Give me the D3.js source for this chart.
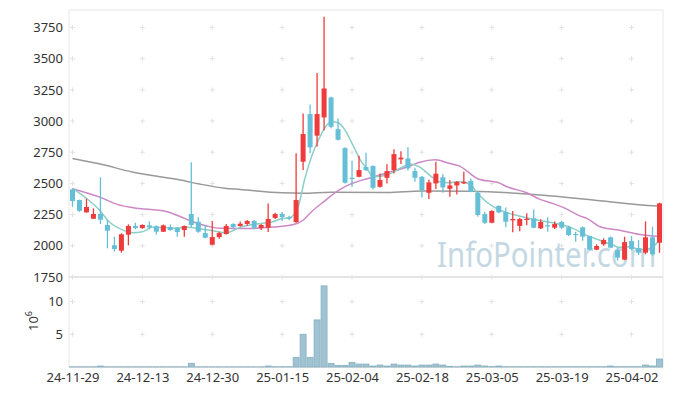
<!DOCTYPE html>
<html>
<head>
<meta charset="utf-8">
<script src="https://cdn.jsdelivr.net/npm/d3@7"></script>
<style>
  body { margin: 0; background: #fff; }
  svg { display: block; font-family: "Noto Sans", "Open Sans", sans-serif; }
  .tick text { fill: #333; font-size: 13px; }
</style>
</head>
<body>
<svg id="chart" width="673" height="396"></svg>
<script>
// trading days shown on the x axis
const dates = [
  "24-11-29",
  "24-12-02","24-12-03","24-12-04","24-12-05","24-12-06",
  "24-12-09","24-12-10","24-12-11","24-12-12","24-12-13",
  "24-12-16","24-12-17","24-12-18","24-12-19","24-12-20",
  "24-12-23","24-12-24","24-12-26","24-12-27","24-12-30",
  "25-01-02","25-01-03","25-01-06","25-01-07","25-01-08","25-01-09","25-01-10",
  "25-01-13","25-01-14","25-01-15","25-01-16","25-01-17",
  "25-01-20","25-01-21","25-01-22","25-01-23","25-01-24","25-01-31",
  "25-02-03","25-02-04","25-02-05","25-02-06","25-02-07",
  "25-02-10","25-02-11","25-02-12","25-02-13","25-02-14",
  "25-02-17","25-02-18","25-02-19","25-02-20","25-02-21",
  "25-02-24","25-02-25","25-02-26","25-02-27","25-02-28",
  "25-03-04","25-03-05","25-03-06","25-03-07",
  "25-03-10","25-03-11","25-03-12","25-03-13","25-03-14",
  "25-03-17","25-03-18","25-03-19","25-03-20","25-03-21",
  "25-03-24","25-03-25","25-03-26","25-03-27","25-03-28",
  "25-03-31","25-04-01","25-04-02","25-04-03","25-04-04","25-04-07","25-04-08"
]

const opens = [2452,2367,2268,2217,2255,2167,2004,1961,2089,2159,2142,2164,2156,2113,2150,2142,2126,2255,2193,2102,
  2009,2070,2094,2175,2159,2175,2199,2142,2145,2223,2255,2228,2190,2674,3056,2883,3029,3189,2935,2783,
  2545,2553,2631,2639,2473,2545,2607,2693,2700,2599,2553,2425,2500,2549,2457,2484,2500,2519,2425,2255,
  2185,2319,2271,2204,2159,2210,2219,2140,2165,2145,2191,2148,2095,2148,2078,1969,2012,2068,1966,1889,
  2038,1980,1945,2068,2025]
const highs = [2460,2370,2377,2300,2549,2207,2073,2100,2172,2185,2172,2196,2164,2170,2170,2150,2162,2669,2229,2167,
  2199,2113,2175,2180,2195,2207,2207,2175,2340,2265,2271,2240,2741,3061,3133,3386,3835,3195,3021,2790,
  2681,2722,2746,2645,2580,2653,2773,2757,2789,2626,2560,2530,2674,2573,2527,2520,2594,2540,2430,2273,
  2285,2325,2308,2279,2225,2260,2292,2212,2229,2195,2200,2160,2113,2155,2080,2012,2060,2075,1988,2073,
  2078,2046,2196,2153,2345]
const lows = [2313,2272,2265,2215,2175,1980,1953,1945,2004,2132,2137,2132,2090,2110,2120,2073,2073,2148,2105,2060,
  2005,2057,2090,2142,2153,2160,2132,2126,2110,2215,2199,2205,2185,2607,2741,2794,2927,2943,2845,2500,
  2473,2550,2600,2452,2468,2500,2580,2655,2604,2513,2388,2375,2455,2425,2393,2412,2495,2430,2233,2175,
  2180,2260,2148,2108,2116,2164,2140,2135,2113,2135,2135,2078,2033,2041,1965,1965,2000,1980,1880,1885,
  1965,1926,1932,1920,1945]
const closes = [2359,2281,2311,2255,2209,2121,1974,2092,2159,2142,2167,2148,2113,2164,2126,2110,2159,2167,2113,2065,
  2070,2102,2159,2150,2177,2199,2145,2167,2215,2255,2231,2220,2367,2896,2789,3056,3261,2954,2850,2505,
  2535,2607,2607,2465,2527,2599,2735,2707,2620,2545,2447,2508,2578,2468,2484,2513,2513,2433,2247,2185,
  2279,2268,2193,2215,2215,2217,2145,2191,2158,2175,2145,2086,2090,2073,1969,1998,2046,1985,1905,2030,
  1974,1945,2068,1932,2340]
// volume in millions of shares
const volumes = [0.02,0.02,0.02,0.02,0.15,0.02,0.02,0.02,0.02,0.02,0.02,0.02,0.02,0.02,0.02,0.02,0.02,0.57,0.02,0.02,
  0.02,0.02,0.02,0.02,0.02,0.02,0.02,0.02,0.15,0.03,0.03,0.03,1.48,5.0,1.48,7.2,12.4,0.55,0.25,0.25,
  0.7,0.45,0.45,0.15,0.3,0.15,0.45,0.3,0.3,0.15,0.3,0.3,0.45,0.3,0.1,0.03,0.15,0.15,0.3,0.15,
  0.05,0.15,0.03,0.03,0.03,0.03,0.03,0.03,0.03,0.03,0.03,0.03,0.03,0.03,0.03,0.03,0.03,0.15,0.03,0.03,
  0.03,0.03,0.3,0.15,1.22]

// moving average lines: [day index, price]
const maShort = [[0,2460],[2,2380],[3.8,2290],[5.2,2195],[7,2132],[8.6,2105],[10,2113],[11.4,2148],[13,2145],[15,2142],
  [16.3,2150],[17.7,2140],[20,2121],[22,2105],[24,2148],[26.3,2175],[28.7,2193],[30,2218],[31,2222],[32.3,2313],
  [33.2,2527],[34.2,2714],[35.2,2848],[36.4,2968],[37.1,2994],[38,2986],[39,2927],[40,2821],[41.2,2687],[42.2,2612],
  [43.1,2553],[44.3,2559],[45.7,2585],[47.1,2629],[48.3,2655],[49.6,2634],[51.1,2567],[52.5,2513],[53.9,2505],[55.4,2513],
  [56.8,2495],[58,2420],[59.4,2345],[61.1,2287],[62.5,2260],[63.9,2239],[65.9,2212],[67.8,2193],[69.7,2172],[71.6,2140],
  [73.5,2086],[75.4,2046],[77.3,2006],[78.2,1988],[79.7,1993],[81.1,1972],[82.1,1972],[83.1,1993],[84,2046]]
const maMid = [[0,2458],[3.9,2390],[6.5,2330],[8.7,2305],[13.4,2275],[15.4,2235],[17.2,2193],[19.2,2159],[21.1,2140],[25,2138],
  [28.7,2150],[31.5,2168],[33,2205],[34.2,2273],[36.1,2360],[38,2443],[40,2500],[42.3,2540],[44.7,2580],[48.3,2640],
  [49.7,2670],[51.9,2690],[54,2660],[55.4,2639],[58,2537],[61.2,2500],[62.2,2473],[65,2425],[66.9,2372],[68.7,2340],
  [70.2,2308],[72.6,2240],[73.6,2220],[75.5,2153],[78.3,2124],[81.2,2090],[84,2075]]
const maLong = [[0,2700],[4,2655],[8.7,2590],[12.5,2553],[15.4,2527],[18.2,2495],[21.8,2462],[24,2452],[30,2425],[33,2422],
  [37,2430],[45,2428],[50,2440],[57,2438],[67,2407],[75.5,2361],[81,2330],[84,2318]]

const priceTicks = [1750, 2000, 2250, 2500, 2750, 3000, 3250, 3500, 3750]
const volTicks = [5, 10]
const dateTicks = [0, 10, 20, 30, 40, 50, 60, 70, 80]

const mLeft = 69, mRight = 663, mTop = 10, priceBottom = 277, volBottom = 367

const svg = d3.select("#chart")

const x = d3.scaleLinear().domain([-0.5, dates.length - 0.5]).range([mLeft, mRight])
const y = d3.scaleLinear().domain([1750, 3890]).range([priceBottom, mTop])
const yv = d3.scaleLinear().domain([0, 13.76]).range([volBottom, priceBottom])
const step = x(1) - x(0)

const up = "#ef3b3b", down = "#65bfd7"

/* grid crosses at tick intersections */
const crossData = []
dateTicks.forEach(t => {
  priceTicks.forEach(p => crossData.push([x(t), y(p)]))
  volTicks.forEach(v => crossData.push([x(t), yv(v)]))
})
svg.append("g").selectAll("path")
  .data(crossData)
  .enter().append("path")
  .attr("d", d => `M${d[0] - 2.5},${d[1]}h5M${d[0]},${d[1] - 2.5}v5`)
  .attr("stroke", "#e2e2e2")
  .attr("stroke-width", 1)

/* frame */
svg.append("rect")
  .attr("x", mLeft).attr("y", mTop)
  .attr("width", mRight - mLeft).attr("height", volBottom - mTop)
  .attr("fill", "none").attr("stroke", "#e8e8e8")
svg.append("line")
  .attr("x1", mLeft).attr("x2", mRight).attr("y1", priceBottom).attr("y2", priceBottom)
  .attr("stroke", "#e4e4e4").attr("stroke-width", 2)
svg.append("line")
  .attr("x1", mLeft).attr("x2", mRight).attr("y1", volBottom).attr("y2", volBottom)
  .attr("stroke", "#e4e4e4").attr("stroke-width", 2)

/* watermark, squeezed horizontally to the reference width */
svg.append("text")
  .attr("transform", "translate(437,267) scale(0.84,1)")
  .attr("font-size", 35)
  .attr("fill", "#c4d8e3")
  .text("InfoPointer.com")

/* moving averages */
const maLine = d3.line()
  .x(d => x(d[0]))
  .y(d => y(d[1]))
  .curve(d3.curveMonotoneX)

svg.append("path").datum(maLong)
  .attr("fill", "none").attr("stroke", "#999").attr("stroke-width", 1.5).attr("d", maLine)
svg.append("path").datum(maMid)
  .attr("fill", "none").attr("stroke", "#cc88c6").attr("stroke-width", 1.5).attr("d", maLine)
svg.append("path").datum(maShort)
  .attr("fill", "none").attr("stroke", "#8ccfc6").attr("stroke-width", 1.5).attr("d", maLine)

/* candles */
const candles = svg.append("g").selectAll("g")
  .data(dates.map((d, i) => i))
  .enter().append("g")

candles.append("line")
  .attr("x1", i => x(i)).attr("x2", i => x(i))
  .attr("y1", i => y(highs[i])).attr("y2", i => y(lows[i]))
  .attr("stroke", i => closes[i] >= opens[i] ? up : down)
  .attr("stroke-width", 1.3)

candles.append("rect")
  .attr("x", i => x(i) - 2.5)
  .attr("width", 5)
  .attr("y", i => y(Math.max(opens[i], closes[i])))
  .attr("height", i => Math.max(1.2, Math.abs(y(opens[i]) - y(closes[i]))))
  .attr("fill", i => closes[i] >= opens[i] ? up : down)

/* volume bars */
svg.append("g").selectAll("rect")
  .data(volumes)
  .enter().append("rect")
  .attr("x", (d, i) => x(i) - step / 2 + 0.5)
  .attr("width", step - 1)
  .attr("y", d => yv(d))
  .attr("height", d => volBottom - yv(d))
  .attr("fill", "#9fc3d2")
  .attr("stroke", "#86afc0")
  .attr("stroke-width", 0.8)

/* axes */
const yAxis = svg.append("g")
  .attr("transform", `translate(${mLeft},0)`)
  .call(d3.axisLeft(y).tickValues(priceTicks).tickFormat(d3.format("d")).tickSize(0).tickPadding(6))
yAxis.select(".domain").remove()

const vAxis = svg.append("g")
  .attr("transform", `translate(${mLeft},0)`)
  .call(d3.axisLeft(yv).tickValues(volTicks).tickFormat(d3.format("d")).tickSize(0).tickPadding(6))
vAxis.select(".domain").remove()

const xAxis = svg.append("g")
  .attr("transform", `translate(0,${volBottom})`)
  .call(d3.axisBottom(x).tickValues(dateTicks).tickFormat(i => dates[i]).tickSize(0).tickPadding(6))
xAxis.select(".domain").remove()

// let the page font apply instead of the axis default
;[yAxis, vAxis, xAxis].forEach(a => a.attr("font-family", null).attr("font-size", null))

/* volume unit label */
const unit = svg.append("text")
  .attr("transform", "translate(38,321) rotate(-90)")
  .attr("text-anchor", "middle")
  .attr("font-size", 13)
  .attr("fill", "#333")
unit.append("tspan").text("10")
unit.append("tspan").attr("dy", -6).attr("font-size", 9).text("6")
</script>
</body>
</html>
